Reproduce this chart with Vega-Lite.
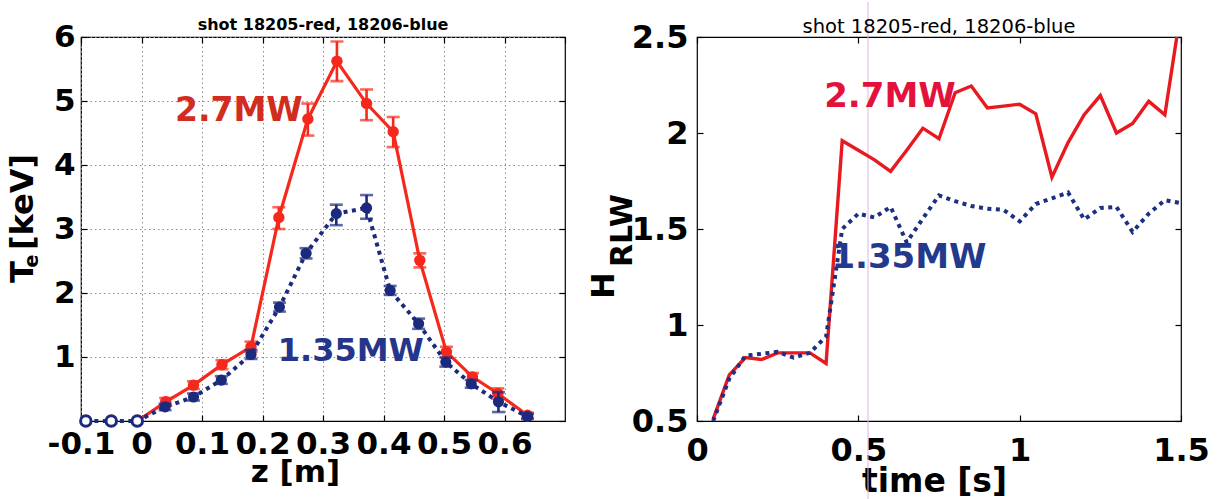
{
  "$schema": "https://vega.github.io/schema/vega-lite/v6.json",
  "background": "white",
  "padding": {"left": 5, "top": 0, "right": 0, "bottom": 0},
  "bounds": "flush",
  "spacing": 132,
  "datasets": {
    "profile": [
      {"s": "red", "z": -0.007, "T": 0},
      {"s": "red", "z": 0.040, "T": 0.30, "lo": 0.24, "hi": 0.36},
      {"s": "red", "z": 0.086, "T": 0.56, "lo": 0.50, "hi": 0.62},
      {"s": "red", "z": 0.133, "T": 0.88, "lo": 0.81, "hi": 0.95},
      {"s": "red", "z": 0.181, "T": 1.16, "lo": 1.08, "hi": 1.24},
      {"s": "red", "z": 0.227, "T": 3.18, "lo": 3.00, "hi": 3.34},
      {"s": "red", "z": 0.275, "T": 4.72, "lo": 4.46, "hi": 4.96},
      {"s": "red", "z": 0.323, "T": 5.62, "lo": 5.31, "hi": 5.93},
      {"s": "red", "z": 0.372, "T": 4.96, "lo": 4.70, "hi": 5.18},
      {"s": "red", "z": 0.416, "T": 4.52, "lo": 4.28, "hi": 4.75},
      {"s": "red", "z": 0.460, "T": 2.51, "lo": 2.40, "hi": 2.62},
      {"s": "red", "z": 0.504, "T": 1.08, "lo": 1.00, "hi": 1.16},
      {"s": "red", "z": 0.547, "T": 0.69, "lo": 0.63, "hi": 0.75},
      {"s": "red", "z": 0.589, "T": 0.43, "lo": 0.35, "hi": 0.51},
      {"s": "red", "z": 0.638, "T": 0.09, "lo": 0.05, "hi": 0.13},
      {"s": "blue", "z": -0.092, "T": 0},
      {"s": "blue", "z": -0.050, "T": 0},
      {"s": "blue", "z": -0.007, "T": 0},
      {"s": "blue", "z": 0.039, "T": 0.22, "lo": 0.17, "hi": 0.27},
      {"s": "blue", "z": 0.086, "T": 0.375, "lo": 0.32, "hi": 0.43},
      {"s": "blue", "z": 0.132, "T": 0.64, "lo": 0.58, "hi": 0.70},
      {"s": "blue", "z": 0.181, "T": 1.04, "lo": 0.97, "hi": 1.11},
      {"s": "blue", "z": 0.228, "T": 1.78, "lo": 1.71, "hi": 1.85},
      {"s": "blue", "z": 0.272, "T": 2.62, "lo": 2.54, "hi": 2.70},
      {"s": "blue", "z": 0.322, "T": 3.24, "lo": 3.06, "hi": 3.38},
      {"s": "blue", "z": 0.372, "T": 3.33, "lo": 3.16, "hi": 3.53},
      {"s": "blue", "z": 0.411, "T": 2.04, "lo": 1.97, "hi": 2.11},
      {"s": "blue", "z": 0.458, "T": 1.52, "lo": 1.44, "hi": 1.60},
      {"s": "blue", "z": 0.503, "T": 0.92, "lo": 0.85, "hi": 0.99},
      {"s": "blue", "z": 0.545, "T": 0.58, "lo": 0.52, "hi": 0.64},
      {"s": "blue", "z": 0.590, "T": 0.30, "lo": 0.14, "hi": 0.45},
      {"s": "blue", "z": 0.638, "T": 0.07, "lo": 0.03, "hi": 0.11}
    ],
    "hrlw": [
      {"s": "red", "t": 0.05, "H": 0.51}, {"s": "red", "t": 0.10, "H": 0.74}, {"s": "red", "t": 0.15, "H": 0.83},
      {"s": "red", "t": 0.20, "H": 0.82}, {"s": "red", "t": 0.25, "H": 0.855}, {"s": "red", "t": 0.30, "H": 0.855},
      {"s": "red", "t": 0.35, "H": 0.855}, {"s": "red", "t": 0.40, "H": 0.80}, {"s": "red", "t": 0.45, "H": 1.96},
      {"s": "red", "t": 0.50, "H": 1.91}, {"s": "red", "t": 0.55, "H": 1.86}, {"s": "red", "t": 0.60, "H": 1.80},
      {"s": "red", "t": 0.65, "H": 1.91}, {"s": "red", "t": 0.70, "H": 2.025}, {"s": "red", "t": 0.75, "H": 1.97},
      {"s": "red", "t": 0.80, "H": 2.21}, {"s": "red", "t": 0.85, "H": 2.245}, {"s": "red", "t": 0.90, "H": 2.13},
      {"s": "red", "t": 0.95, "H": 2.14}, {"s": "red", "t": 1.00, "H": 2.15}, {"s": "red", "t": 1.05, "H": 2.10},
      {"s": "red", "t": 1.10, "H": 1.77}, {"s": "red", "t": 1.15, "H": 1.95}, {"s": "red", "t": 1.20, "H": 2.095},
      {"s": "red", "t": 1.25, "H": 2.195}, {"s": "red", "t": 1.30, "H": 2.0}, {"s": "red", "t": 1.35, "H": 2.05},
      {"s": "red", "t": 1.40, "H": 2.165}, {"s": "red", "t": 1.45, "H": 2.095}, {"s": "red", "t": 1.487, "H": 2.5},
      {"s": "blue", "t": 0.05, "H": 0.50}, {"s": "blue", "t": 0.10, "H": 0.72}, {"s": "blue", "t": 0.15, "H": 0.84},
      {"s": "blue", "t": 0.20, "H": 0.85}, {"s": "blue", "t": 0.25, "H": 0.86}, {"s": "blue", "t": 0.30, "H": 0.83},
      {"s": "blue", "t": 0.35, "H": 0.855}, {"s": "blue", "t": 0.40, "H": 0.94}, {"s": "blue", "t": 0.45, "H": 1.50},
      {"s": "blue", "t": 0.50, "H": 1.58}, {"s": "blue", "t": 0.55, "H": 1.56}, {"s": "blue", "t": 0.60, "H": 1.615},
      {"s": "blue", "t": 0.65, "H": 1.43}, {"s": "blue", "t": 0.70, "H": 1.555}, {"s": "blue", "t": 0.75, "H": 1.675},
      {"s": "blue", "t": 0.80, "H": 1.645}, {"s": "blue", "t": 0.85, "H": 1.62}, {"s": "blue", "t": 0.90, "H": 1.605},
      {"s": "blue", "t": 0.95, "H": 1.60}, {"s": "blue", "t": 1.00, "H": 1.54}, {"s": "blue", "t": 1.05, "H": 1.63},
      {"s": "blue", "t": 1.10, "H": 1.66}, {"s": "blue", "t": 1.15, "H": 1.69}, {"s": "blue", "t": 1.20, "H": 1.55},
      {"s": "blue", "t": 1.25, "H": 1.61}, {"s": "blue", "t": 1.30, "H": 1.615}, {"s": "blue", "t": 1.35, "H": 1.485},
      {"s": "blue", "t": 1.40, "H": 1.58}, {"s": "blue", "t": 1.45, "H": 1.65}, {"s": "blue", "t": 1.50, "H": 1.635}
    ]
  },
  "config": {
    "view": {"stroke": "black", "strokeWidth": 1.2},
    "axis": {
      "domain": false, "tickColor": "black", "tickSize": -6, "tickWidth": 1.2,
      "labelFont": "DejaVu Sans", "labelFontWeight": "bold", "labelColor": "black",
      "titleFont": "DejaVu Sans", "titleFontWeight": "bold", "titleColor": "black",
      "labelOverlap": false, "labelFlush": false, "grid": false,
      "gridColor": "#8c8c8c", "gridDash": [1.5, 3], "gridWidth": 1
    }
  },
  "hconcat": [
    {
      "width": 484, "height": 384,
      "data": {"name": "profile"},
      "resolve": {"axis": {"x": "independent", "y": "independent"}},
      "layer": [
        {
          "transform": [{"filter": "datum.s === 'red'"}],
          "mark": {"type": "line", "color": "#f5281c", "strokeWidth": 3.2},
          "encoding": {
            "x": {"field": "z", "type": "quantitative", "scale": {"domain": [-0.1, 0.7], "nice": false, "zero": false},
              "axis": {"orient": "bottom", "values": [-0.1, 0, 0.1, 0.2, 0.3, 0.4, 0.5, 0.6],
                "labelExpr": "datum.value < 0 ? '-' + format(-datum.value, '~g') : format(datum.value, '~g')",
                "labelFontSize": 31, "labelPadding": 14, "grid": true,
                "title": "z [m]", "titleFontSize": 31, "titleX": 214, "titleY": 60, "titleBaseline": "alphabetic", "titleAlign": "center"}},
            "y": {"field": "T", "type": "quantitative", "scale": {"domain": [0, 6], "nice": false},
              "axis": {"orient": "left", "values": [1, 2, 3, 4, 5, 6], "labelFontSize": 31, "labelPadding": 12, "grid": true,
                "title": "T  [keV]", "titleFontSize": 32, "titleX": -49, "titleY": 181, "titleAngle": 270,
                "titleBaseline": "alphabetic", "titleAlign": "center"}},
            "order": {"field": "z"}
          }
        },
        {
          "mark": {"type": "point", "opacity": 0},
          "encoding": {
            "x": {"field": "z", "type": "quantitative", "axis": {"orient": "top", "labels": false, "title": null, "values": [-0.1, 0, 0.1, 0.2, 0.3, 0.4, 0.5, 0.6, 0.7]}},
            "y": {"field": "T", "type": "quantitative", "axis": {"orient": "right", "labels": false, "title": null, "values": [0, 1, 2, 3, 4, 5, 6]}}
          }
        },
        {
          "transform": [{"filter": "datum.s === 'red' && datum.lo != null"}],
          "mark": {"type": "errorbar", "ticks": true, "size": 13, "thickness": 2.6, "color": "#f5281c"},
          "encoding": {
            "x": {"field": "z", "type": "quantitative", "axis": null},
            "y": {"field": "lo", "type": "quantitative", "axis": null},
            "y2": {"field": "hi"}
          }
        },
        {
          "transform": [{"filter": "datum.s === 'red' && datum.z > 0"}],
          "mark": {"type": "point", "filled": true, "size": 130, "opacity": 1, "color": "#f5281c"},
          "encoding": {
            "x": {"field": "z", "type": "quantitative", "axis": null},
            "y": {"field": "T", "type": "quantitative", "axis": null}
          }
        },
        {
          "transform": [{"filter": "datum.s === 'blue'"}],
          "mark": {"type": "line", "color": "#1b2a7c", "strokeWidth": 4, "strokeDash": [4, 4.5]},
          "encoding": {
            "x": {"field": "z", "type": "quantitative", "axis": null},
            "y": {"field": "T", "type": "quantitative", "axis": null},
            "order": {"field": "z"}
          }
        },
        {
          "transform": [{"filter": "datum.s === 'blue' && datum.lo != null"}],
          "mark": {"type": "errorbar", "ticks": true, "size": 13, "thickness": 2.6, "color": "#1b2a7c"},
          "encoding": {
            "x": {"field": "z", "type": "quantitative", "axis": null},
            "y": {"field": "lo", "type": "quantitative", "axis": null},
            "y2": {"field": "hi"}
          }
        },
        {
          "transform": [{"filter": "datum.s === 'blue' && datum.z > 0"}],
          "mark": {"type": "point", "filled": true, "size": 125, "opacity": 1, "color": "#1b2a7c"},
          "encoding": {
            "x": {"field": "z", "type": "quantitative", "axis": null},
            "y": {"field": "T", "type": "quantitative", "axis": null}
          }
        },
        {
          "transform": [{"filter": "datum.s === 'blue' && datum.z < 0"}],
          "mark": {"type": "point", "filled": false, "size": 110, "strokeWidth": 3, "opacity": 1, "color": "#1b2a7c", "fill": "white", "fillOpacity": 1},
          "encoding": {
            "x": {"field": "z", "type": "quantitative", "axis": null},
            "y": {"field": "T", "type": "quantitative", "axis": null}
          }
        },
        {
          "data": {"values": [{}]},
          "mark": {"type": "text", "text": "shot 18205-red, 18206-blue", "font": "DejaVu Sans", "fontWeight": "bold", "fontSize": 16, "color": "black", "align": "center", "baseline": "alphabetic"},
          "encoding": {"x": {"datum": 0.3, "type": "quantitative", "axis": null}, "y": {"datum": 6.11, "type": "quantitative", "axis": null}}
        },
        {
          "data": {"values": [{}]},
          "mark": {"type": "text", "text": "2.7MW", "font": "DejaVu Sans", "fontWeight": "bold", "fontSize": 33, "color": "#d02c20", "align": "center", "baseline": "middle"},
          "encoding": {"x": {"datum": 0.161, "type": "quantitative", "axis": null}, "y": {"datum": 4.85, "type": "quantitative", "axis": null}}
        },
        {
          "data": {"values": [{}]},
          "mark": {"type": "text", "text": "1.35MW", "font": "DejaVu Sans", "fontWeight": "bold", "fontSize": 32, "color": "#25358a", "align": "center", "baseline": "middle"},
          "encoding": {"x": {"datum": 0.346, "type": "quantitative", "axis": null}, "y": {"datum": 1.1, "type": "quantitative", "axis": null}}
        },
        {
          "data": {"values": [{}]},
          "mark": {"type": "text", "text": "e", "font": "DejaVu Sans", "fontWeight": "bold", "fontSize": 19, "color": "black", "align": "center", "baseline": "alphabetic", "angle": 270},
          "encoding": {"x": {"datum": -0.171, "type": "quantitative", "axis": null}, "y": {"datum": 2.5, "type": "quantitative", "axis": null}}
        }
      ]
    },
    {
      "width": 484, "height": 384,
      "data": {"name": "hrlw"},
      "resolve": {"axis": {"x": "independent", "y": "independent"}},
      "layer": [
        {
          "data": {"values": [{}]},
          "mark": {"type": "rule", "color": "#e2b2ea", "strokeWidth": 1, "clip": false},
          "encoding": {
            "x": {"datum": 0.53, "type": "quantitative", "axis": null},
            "y": {"datum": 0.083, "type": "quantitative", "axis": null},
            "y2": {"datum": 2.682}
          }
        },
        {
          "transform": [{"filter": "datum.s === 'red'"}],
          "mark": {"type": "line", "color": "#e8191f", "strokeWidth": 3.4},
          "encoding": {
            "x": {"field": "t", "type": "quantitative", "scale": {"domain": [0, 1.5], "nice": false, "zero": false},
              "axis": {"orient": "bottom", "values": [0, 0.5, 1, 1.5], "format": "~g", "labelFontSize": 32, "labelPadding": 20,
                "title": "time [s]", "titleFontSize": 33, "titleX": 237, "titleY": 70, "titleBaseline": "alphabetic", "titleAlign": "center"}},
            "y": {"field": "H", "type": "quantitative", "scale": {"domain": [0.5, 2.5], "nice": false, "zero": false},
              "axis": {"orient": "left", "values": [0.5, 1, 1.5, 2, 2.5], "format": "~g", "labelFontSize": 32, "labelPadding": 15,
                "title": "H", "titleFontSize": 32, "titleX": -84, "titleY": 248, "titleAngle": 270,
                "titleBaseline": "alphabetic", "titleAlign": "center"}},
            "order": {"field": "t"}
          }
        },
        {
          "mark": {"type": "point", "opacity": 0},
          "encoding": {
            "x": {"field": "t", "type": "quantitative", "axis": {"orient": "top", "labels": false, "title": null, "values": [0, 0.5, 1, 1.5]}},
            "y": {"field": "H", "type": "quantitative", "axis": {"orient": "right", "labels": false, "title": null, "values": [0.5, 1, 1.5, 2, 2.5]}}
          }
        },
        {
          "transform": [{"filter": "datum.s === 'blue'"}],
          "mark": {"type": "line", "color": "#1c2f82", "strokeWidth": 4, "strokeDash": [4, 4.5]},
          "encoding": {
            "x": {"field": "t", "type": "quantitative", "axis": null},
            "y": {"field": "H", "type": "quantitative", "axis": null},
            "order": {"field": "t"}
          }
        },
        {
          "data": {"values": [{}]},
          "mark": {"type": "text", "text": "shot 18205-red, 18206-blue", "font": "DejaVu Sans", "fontWeight": "normal", "fontSize": 19.5, "color": "black", "align": "center", "baseline": "alphabetic"},
          "encoding": {"x": {"datum": 0.75, "type": "quantitative", "axis": null}, "y": {"datum": 2.523, "type": "quantitative", "axis": null}}
        },
        {
          "data": {"values": [{}]},
          "mark": {"type": "text", "text": "2.7MW", "font": "DejaVu Sans", "fontWeight": "bold", "fontSize": 34, "color": "#e3123c", "align": "center", "baseline": "middle"},
          "encoding": {"x": {"datum": 0.598, "type": "quantitative", "axis": null}, "y": {"datum": 2.19, "type": "quantitative", "axis": null}}
        },
        {
          "data": {"values": [{}]},
          "mark": {"type": "text", "text": "1.35MW", "font": "DejaVu Sans", "fontWeight": "bold", "fontSize": 34, "color": "#233a8c", "align": "center", "baseline": "middle"},
          "encoding": {"x": {"datum": 0.657, "type": "quantitative", "axis": null}, "y": {"datum": 1.349, "type": "quantitative", "axis": null}}
        },
        {
          "data": {"values": [{}]},
          "mark": {"type": "text", "text": "RLW", "font": "DejaVu Sans", "fontWeight": "bold", "fontSize": 30, "color": "black", "align": "center", "baseline": "alphabetic", "angle": 270},
          "encoding": {"x": {"datum": -0.2014, "type": "quantitative", "axis": null}, "y": {"datum": 1.492, "type": "quantitative", "axis": null}}
        }
      ]
    }
  ]
}
